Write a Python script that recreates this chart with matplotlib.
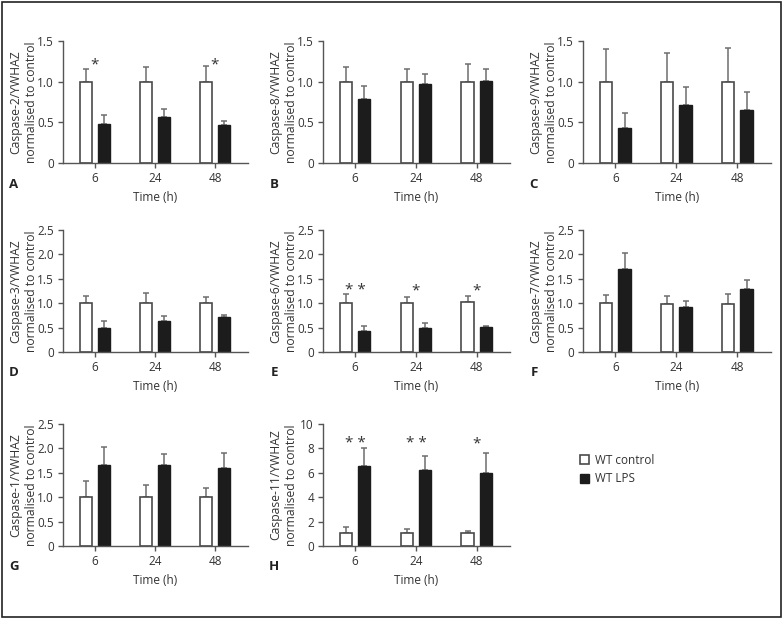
"""Caspase expression panels (A-H): WT control vs WT LPS at 6, 24, 48 h."""

import matplotlib

matplotlib.use("Agg")

import matplotlib.pyplot as plt
import numpy as np
from matplotlib.patches import Rectangle

plt.rcParams["font.family"] = ["Open Sans", "DejaVu Sans"]

TIMES = ["6", "24", "48"]

# means and upper SEM, one list per panel
CASP2_CTRL = [1.0, 1.0, 1.0]
CASP2_CTRL_SEM = [0.15, 0.18, 0.19]
CASP2_LPS = [0.48, 0.57, 0.47]
CASP2_LPS_SEM = [0.11, 0.09, 0.05]

CASP8_CTRL = [1.0, 1.0, 1.0]
CASP8_CTRL_SEM = [0.18, 0.16, 0.22]
CASP8_LPS = [0.79, 0.97, 1.01]
CASP8_LPS_SEM = [0.16, 0.13, 0.15]

CASP9_CTRL = [1.0, 1.0, 1.0]
CASP9_CTRL_SEM = [0.40, 0.35, 0.41]
CASP9_LPS = [0.43, 0.71, 0.65]
CASP9_LPS_SEM = [0.18, 0.22, 0.22]

CASP3_CTRL = [1.0, 1.0, 1.0]
CASP3_CTRL_SEM = [0.15, 0.20, 0.13]
CASP3_LPS = [0.50, 0.63, 0.72]
CASP3_LPS_SEM = [0.14, 0.10, 0.03]

CASP6_CTRL = [1.0, 1.0, 1.02]
CASP6_CTRL_SEM = [0.18, 0.13, 0.12]
CASP6_LPS = [0.43, 0.50, 0.51]
CASP6_LPS_SEM = [0.11, 0.10, 0.02]

CASP7_CTRL = [1.0, 0.99, 0.99]
CASP7_CTRL_SEM = [0.17, 0.15, 0.19]
CASP7_LPS = [1.70, 0.93, 1.30]
CASP7_LPS_SEM = [0.32, 0.11, 0.17]

CASP1_CTRL = [1.0, 1.0, 1.0]
CASP1_CTRL_SEM = [0.33, 0.25, 0.18]
CASP1_LPS = [1.65, 1.65, 1.59]
CASP1_LPS_SEM = [0.37, 0.23, 0.31]

CASP11_CTRL = [1.1, 1.1, 1.05]
CASP11_CTRL_SEM = [0.42, 0.30, 0.22]
CASP11_LPS = [6.55, 6.25, 5.95]
CASP11_LPS_SEM = [1.50, 1.15, 1.65]

STARS_A = ["*", "", "*"]
STARS_E = ["**", "*", "*"]
STARS_H = ["**", "**", "*"]

EDGE = "#4a4a4a"
TEXT = "#333333"
FIG_W, FIG_H = 783, 618

# (letter, gene, ctrl, ctrl_sem, lps, lps_sem, ymax, ystep, stars, star_frac, col, row)
PANELS = [
    ("A", "Caspase-2", CASP2_CTRL, CASP2_CTRL_SEM, CASP2_LPS, CASP2_LPS_SEM, 1.5, 0.5, STARS_A, 0.80, 0, 0),
    ("B", "Caspase-8", CASP8_CTRL, CASP8_CTRL_SEM, CASP8_LPS, CASP8_LPS_SEM, 1.5, 0.5, None, 0, 1, 0),
    ("C", "Caspase-9", CASP9_CTRL, CASP9_CTRL_SEM, CASP9_LPS, CASP9_LPS_SEM, 1.5, 0.5, None, 0, 2, 0),
    ("D", "Caspase-3", CASP3_CTRL, CASP3_CTRL_SEM, CASP3_LPS, CASP3_LPS_SEM, 2.5, 0.5, None, 0, 0, 1),
    ("E", "Caspase-6", CASP6_CTRL, CASP6_CTRL_SEM, CASP6_LPS, CASP6_LPS_SEM, 2.5, 0.5, STARS_E, 0.50, 1, 1),
    ("F", "Caspase-7", CASP7_CTRL, CASP7_CTRL_SEM, CASP7_LPS, CASP7_LPS_SEM, 2.5, 0.5, None, 0, 2, 1),
    ("G", "Caspase-1", CASP1_CTRL, CASP1_CTRL_SEM, CASP1_LPS, CASP1_LPS_SEM, 2.5, 0.5, None, 0, 0, 2),
    ("H", "Caspase-11", CASP11_CTRL, CASP11_CTRL_SEM, CASP11_LPS, CASP11_LPS_SEM, 10, 2, STARS_H, 0.84, 1, 2),
]

COL_X = [(63, 248), (323, 510), (583, 771)]
ROW_Y = [(41, 163), (230, 352), (424, 546)]


def fmt_tick(v, step):
    if v == 0:
        return "0"
    if float(step).is_integer():
        return f"{int(v)}"
    return f"{v:.1f}"


def draw_panel(fig, spec):
    letter, gene, ctrl, ctrl_sem, lps, lps_sem, ymax, ystep, stars, star_frac, col, row = spec
    x0, x1 = COL_X[col]
    y0, y1 = ROW_Y[row]
    ax = fig.add_axes([x0 / FIG_W, 1 - y1 / FIG_H, (x1 - x0) / FIG_W, (y1 - y0) / FIG_H])

    x = np.arange(len(TIMES))
    off, w = 0.15, 0.2
    zeros = np.zeros(len(x))
    ax.errorbar(x - off, ctrl, yerr=[zeros, ctrl_sem], fmt="none", ecolor="#6e6e6e",
                elinewidth=1.1, capsize=2.2, capthick=1.1, zorder=1)
    ax.errorbar(x + off, lps, yerr=[zeros, lps_sem], fmt="none", ecolor="#6e6e6e",
                elinewidth=1.1, capsize=2.2, capthick=1.1, zorder=1)
    b1 = ax.bar(x - off, ctrl, w, color="white", edgecolor=EDGE, linewidth=1.2, zorder=2,
                label="WT control")
    b2 = ax.bar(x + off, lps, w, color="#1c1c1c", edgecolor="#1c1c1c", linewidth=1.0, zorder=2,
                label="WT LPS")

    if stars:
        for xi, s in zip(x, stars):
            if s:
                ax.text(xi, ymax * star_frac, " ".join(s), ha="center", va="center",
                        fontsize=11, color=TEXT)

    ax.set_xlim(-0.53, 2.55)
    ax.set_ylim(0, ymax)
    ticks = np.arange(0, ymax + ystep / 2, ystep)
    ax.set_yticks(ticks)
    ax.set_yticklabels([fmt_tick(t, ystep) for t in ticks])
    ax.set_xticks(x)
    ax.set_xticklabels(TIMES)

    for side in ("top", "right"):
        ax.spines[side].set_visible(False)
    for side in ("left", "bottom"):
        ax.spines[side].set_color("#555555")
        ax.spines[side].set_linewidth(1.0)
    ax.tick_params(colors="#555555", labelcolor=TEXT, labelsize=8.5, length=3.5, width=1.0, pad=3)

    ax.set_ylabel(f"{gene}/YWHAZ\nnormalised to control", fontsize=8.7, color=TEXT, linespacing=1.3)
    ax.yaxis.set_label_coords(-25 / (x1 - x0), 0.5)
    ax.set_xlabel("Time (h)", fontsize=8.5, color=TEXT, labelpad=4)

    fig.text((x0 - 49) / FIG_W, 1 - (y1 + 21) / FIG_H, letter, fontsize=9.5, fontweight="bold",
             color="#222222", ha="center", va="center")
    return b1, b2


def main():
    fig = plt.figure(figsize=(FIG_W / 100, FIG_H / 100), dpi=100)
    handles = None
    for spec in PANELS:
        handles = draw_panel(fig, spec)

    fig.legend(handles, ["WT control", "WT LPS"], loc="upper left",
               bbox_to_anchor=(580 / FIG_W, 1 - 454 / FIG_H), frameon=False,
               fontsize=8.5, handlelength=0.8, handleheight=0.8, handletextpad=0.5,
               labelspacing=0.45, borderpad=0, borderaxespad=0, labelcolor=TEXT)

    fig.patches.append(Rectangle((1.5 / FIG_W, 1.5 / FIG_H), 1 - 3.5 / FIG_W, 1 - 3 / FIG_H,
                                 transform=fig.transFigure, fill=False, edgecolor="#222222",
                                 linewidth=1.2))
    fig.savefig("out.png", dpi=100)


if __name__ == "__main__":
    main()
